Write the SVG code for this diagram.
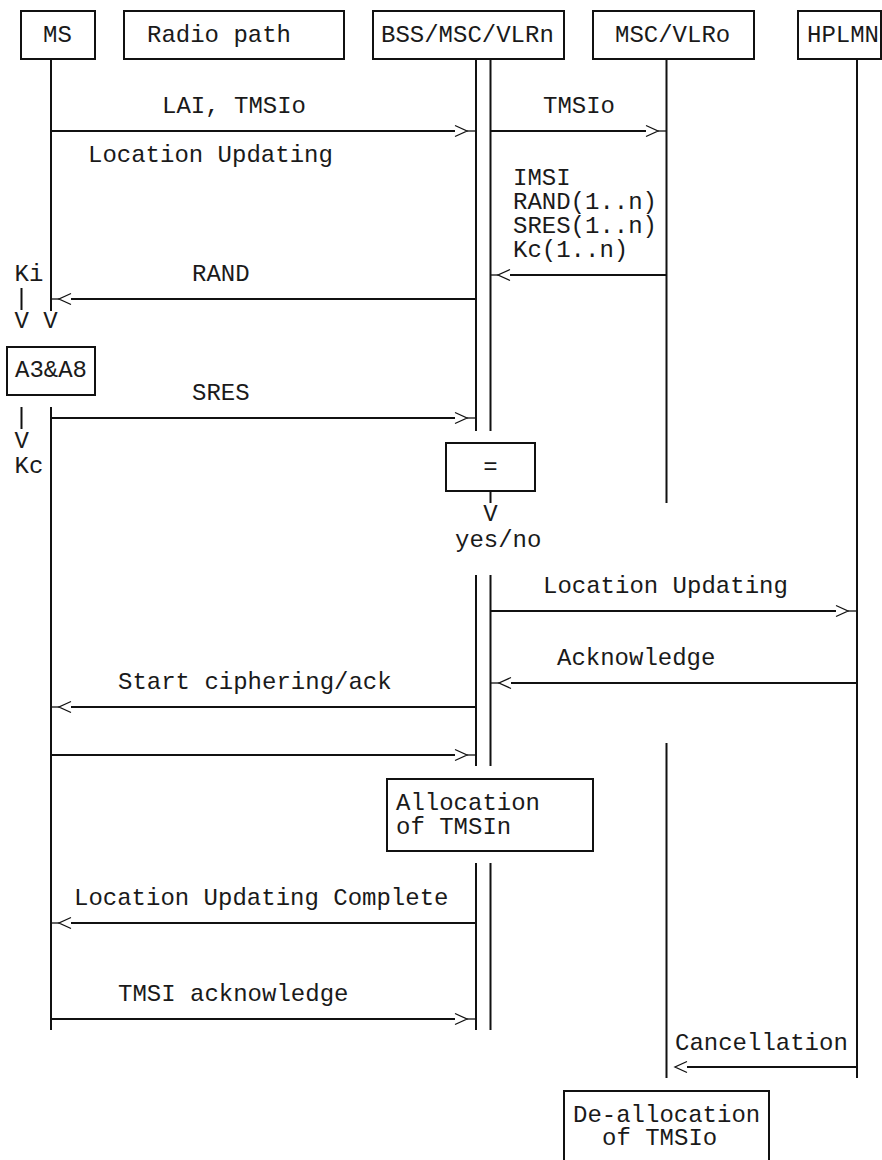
<svg xmlns="http://www.w3.org/2000/svg" xmlns:xlink="http://www.w3.org/1999/xlink" width="882" height="1160" viewBox="0 0 882 1160">
<style>
  .t { font-family: "Liberation Mono", "Courier New", monospace; font-size: 24px; fill: #1a1a1a; }
  .m { text-anchor: middle; }
  .box { fill: #fff; stroke: #111; stroke-width: 2; }
  .ll { stroke: #111; stroke-width: 2; fill: none; }
  .ar { stroke: #111; stroke-width: 2; fill: none; }
  .tie { stroke: #111; stroke-width: 1.3; fill: none; }
  .hd { stroke: #111; stroke-width: 1.3; fill: none; }
</style>
<defs>
  <path id="chevR" class="hd" d="M-12,-5.5 L0,0 L-12,5.5"/>
  <path id="chevL" class="hd" d="M12,-5.5 L0,0 L12,5.5"/>
</defs>
<rect width="882" height="1160" fill="#fff"/>

<g id="lifelines">
  <path class="ll" d="M51,59 V311 M51,407 V1030"/>
  <path class="ll" d="M476,59 V431 M476,575 V766 M476,863 V1030"/>
  <path class="ll" d="M490.5,59 V431 M490.5,575 V766 M490.5,863 V1030"/>
  <path class="ll" d="M666.5,59 V503 M666.5,743 V1078"/>
  <path class="ll" d="M857,59 V1078"/>
</g>

<g id="node-ms"><rect class="box" x="21" y="11" width="74" height="48"/><text class="t" x="43" y="42">MS</text></g>
<g id="node-radio"><rect class="box" x="124" y="11" width="220" height="48"/><text class="t" x="147" y="42">Radio path</text></g>
<g id="node-bss"><rect class="box" x="373" y="11" width="191" height="48"/><text class="t" x="381" y="42">BSS/MSC/VLRn</text></g>
<g id="node-vlro"><rect class="box" x="593" y="11" width="161" height="48"/><text class="t" x="615" y="42">MSC/VLRo</text></g>
<g id="node-hplmn"><rect class="box" x="798" y="11" width="83" height="48"/><text class="t" x="807" y="42">HPLMN</text></g>

<g id="node-a3a8"><rect class="box" x="7" y="347" width="88" height="48"/><text class="t" x="15" y="377">A3&amp;A8</text></g>
<g id="node-compare"><rect class="box" x="446" y="443" width="89" height="48"/><text class="t m" x="490.5" y="474">=</text></g>
<g id="node-alloc"><rect class="box" x="387" y="779" width="206" height="72"/><text class="t" x="396" y="810">Allocation<tspan x="396" dy="24">of TMSIn</tspan></text></g>
<g id="node-dealloc"><rect class="box" x="564" y="1091" width="205" height="80"/><text class="t" x="573" y="1122">De-allocation<tspan x="602" dy="23">of TMSIo</tspan></text></g>

<g id="connectors">
  <path class="ar" d="M51,131 H455"/><use xlink:href="#chevR" x="467" y="131"/><path class="tie" d="M467,131 H476"/>
  <path class="ar" d="M490.5,131 H646"/><use xlink:href="#chevR" x="658" y="131"/><path class="tie" d="M658,131 H666.5"/>
  <path class="ar" d="M666.5,275 H510"/><use xlink:href="#chevL" x="498" y="275"/><path class="tie" d="M490.5,275 H498"/>
  <path class="ar" d="M476,299 H71"/><use xlink:href="#chevL" x="59" y="299"/><path class="tie" d="M51,299 H59"/>
  <path class="ll" d="M21.5,288 V310"/>
  <path class="ll" d="M21.5,407 V429"/>
  <path class="ar" d="M51,418 H455"/><use xlink:href="#chevR" x="467" y="418"/><path class="tie" d="M467,418 H476"/>
  <path class="ll" d="M490.5,491 V503"/>
  <path class="ar" d="M490.5,611 H836"/><use xlink:href="#chevR" x="848" y="611"/><path class="tie" d="M848,611 H857"/>
  <path class="ar" d="M857,683 H511"/><use xlink:href="#chevL" x="499" y="683"/><path class="tie" d="M490.5,683 H499"/>
  <path class="ar" d="M476,707 H71"/><use xlink:href="#chevL" x="59" y="707"/><path class="tie" d="M51,707 H59"/>
  <path class="ar" d="M51,755 H455"/><use xlink:href="#chevR" x="467" y="755"/><path class="tie" d="M467,755 H476"/>
  <path class="ar" d="M476,923 H71"/><use xlink:href="#chevL" x="59" y="923"/><path class="tie" d="M51,923 H59"/>
  <path class="ar" d="M51,1019 H455"/><use xlink:href="#chevR" x="467" y="1019"/><path class="tie" d="M467,1019 H476"/>
  <path class="ar" d="M857,1067 H687"/><use xlink:href="#chevL" x="675" y="1067"/>
</g>

<g id="labels">
  <text class="t" x="162" y="113">LAI, TMSIo</text>
  <text class="t" x="543" y="113">TMSIo</text>
  <text class="t" x="88" y="162">Location Updating</text>
  <text class="t" x="513" y="185">IMSI<tspan x="513" dy="24">RAND(1..n)</tspan><tspan x="513" dy="24">SRES(1..n)</tspan><tspan x="513" dy="24">Kc(1..n)</tspan></text>
  <text class="t" x="14.5" y="281">Ki</text>
  <text class="t" x="192" y="281">RAND</text>
  <text class="t" x="14.5" y="328" xml:space="preserve">V V</text>
  <text class="t" x="192" y="400">SRES</text>
  <text class="t" x="14.5" y="448">V</text>
  <text class="t" x="14.5" y="473">Kc</text>
  <text class="t m" x="490.5" y="521">V</text>
  <text class="t" x="455" y="547">yes/no</text>
  <text class="t" x="543" y="593">Location Updating</text>
  <text class="t" x="557" y="665">Acknowledge</text>
  <text class="t" x="118" y="689">Start ciphering/ack</text>
  <text class="t" x="74" y="905">Location Updating Complete</text>
  <text class="t" x="118" y="1001">TMSI acknowledge</text>
  <text class="t" x="675" y="1050">Cancellation</text>
</g>
</svg>
